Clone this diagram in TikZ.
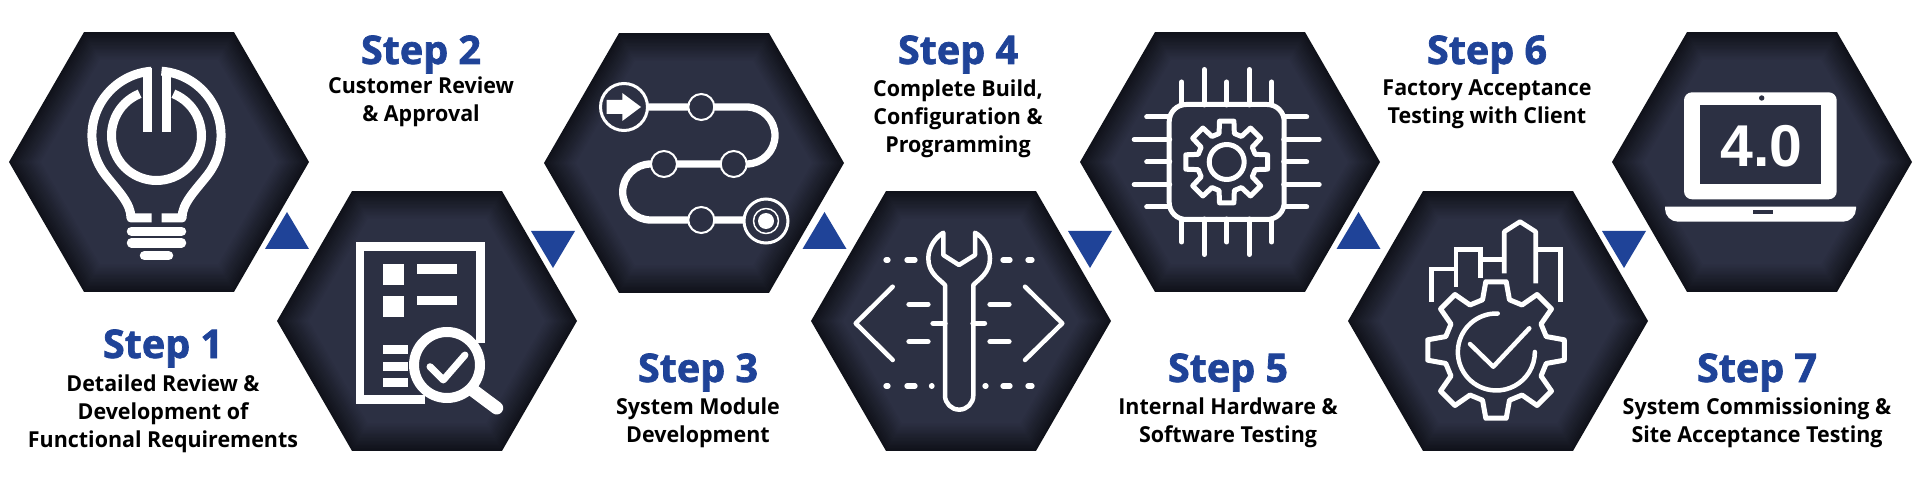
\documentclass[tikz,border=0pt]{standalone}
\usepackage{fontspec}
\setmainfont{Open Sans}
\newfontfamily\headfont[BoldFeatures={FakeBold=1.8}]{Open Sans}
\newfontfamily\descfont[BoldFeatures={FakeStretch=0.975}]{Open Sans}
\newfontfamily\screenfont{Liberation Sans}
\definecolor{hexmid}{HTML}{2C3043}
\definecolor{hexedge}{HTML}{10121A}
\definecolor{stepblue}{HTML}{1F4398}
\tikzset{
  x=1pt,y=1pt,
  stephead/.style={anchor=base,inner sep=0pt,text=stepblue,font=\headfont\bfseries\fontsize{39.5}{39.5}\selectfont},
  stepdesc/.style={anchor=base,inner sep=0pt,align=center,font=\descfont\bfseries\fontsize{22}{28}\selectfont},
  tri/.style={fill=stepblue},
  icon/.style={draw=white,line width=#1,line join=round},
  icon/.default=5pt,
  iconfill/.style={fill=white},
  darkdisc/.style={fill=hexmid,draw=white},
  iconcap/.style={icon=#1,line cap=round},
  iconcap/.default=5pt,
}
%% hexagon with a dark rim, #1 is the name of its centre
\newcommand{\hexcell}[3]{%
  \coordinate (#1) at (#2,#3);
  \foreach \p in {0,5,...,100}{
    \pgfmathsetmacro{\r}{150-0.32*\p}
    \fill[hexmid!\p!hexedge,shift={(#1)}] (0:\r) -- (60:\r) -- (120:\r) -- (180:\r) -- (240:\r) -- (300:\r) -- cycle;
  }
}
%% gear with 8 teeth
\newcommand{\gearpath}[4]{%
  \draw[icon] (-#4:#2) \foreach \a in {0,45,...,315}{
    -- ({\a-#4}:#2) -- ({\a-#3}:#1) -- ({\a+#3}:#1) -- ({\a+#4}:#2)
  } -- cycle;
}
\begin{document}
\begin{tikzpicture}
  \path[use as bounding box,fill=white] (0,0) rectangle (1920,480);
  %% hexagons
  \hexcell{H1}{159}{318}
  \hexcell{H2}{427}{159}
  \hexcell{H3}{694}{317}
  \hexcell{H4}{961}{159}
  \hexcell{H5}{1230}{318}
  \hexcell{H6}{1498}{159}
  \hexcell{H7}{1762}{318}
  %% triangles
  \foreach \x in {287,824.5,1358.5}
    \fill[tri] (\x,268) -- (\x-22,231) -- (\x+22,231) -- cycle;
  \foreach \x in {553,1090,1624}
    \fill[tri] (\x,212) -- (\x-22,249) -- (\x+22,249) -- cycle;
  %% labels
  \node[stephead] (S1) at (163,122) {Step 1};
  \node[stepdesc] (D1) at (163,33) {Detailed Review \&\\Development of\\Functional Requirements};
  \node[stephead] (S2) at (421,416) {Step 2};
  \node[stepdesc] (D2) at (421,358) {Customer Review\\\& Approval};
  \node[stephead] (S3) at (698,98) {Step 3};
  \node[stepdesc] (D3) at (698,38) {System Module\\Development};
  \node[stephead] (S4) at (958,416) {Step 4};
  \node[stepdesc] (D4) at (958,327) {Complete Build,\\Configuration \&\\Programming};
  \node[stephead] (S5) at (1228,98) {Step 5};
  \node[stepdesc] (D5) at (1228,38) {Internal Hardware \&\\Software Testing};
  \node[stephead] (S6) at (1487,416) {Step 6};
  \node[stepdesc] (D6) at (1487,356) {Factory Acceptance\\Testing with Client};
  \node[stephead] (S7) at (1757,98) {Step 7};
  \node[stepdesc] (D7) at (1757,38) {System Commissioning \&\\Site Acceptance Testing};
  %% bulb
  \begin{scope}[shift={(H1)},shift={(-2.5,26.5)}]
    \foreach \s in {-1,1}{
      \begin{scope}[xscale=\s]
        \draw[icon=9pt] (-5,64.3) arc[start angle=94.4,end angle=218,radius=64.5]
          .. controls (-38,-56) and (-25.5,-68) .. (-25.5,-82.5) -- (-5,-82.5);
        \draw[icon=9pt] (-9.5,3.5) -- (-9.5,67);
      \end{scope}
    }
    \draw[icon=9pt] (112:45) arc[start angle=112,end angle=428,radius=45];
    \draw[iconcap=9.5pt] (-25,-95.8) -- (25,-95.8);
    \draw[iconcap=9.5pt] (-25,-107.3) -- (25,-107.3);
    \draw[iconcap=9.5pt] (-12,-120.2) -- (12,-120.2);
  \end{scope}
  %% checklist
  \begin{scope}[shift={(H2)}]
    \draw[icon=8.7pt,line join=miter] (-2,-78.7) -- (-67,-78.7) -- (-67,74.3) -- (53.6,74.3) -- (53.6,-22);
    \fill[iconfill] (-43.7,56.7) rectangle (-23,36);
    \fill[iconfill] (-43.7,24.7) rectangle (-23,4);
    \fill[iconfill] (-10,56.7) rectangle (29.7,47.3);
    \fill[iconfill] (-10,24.7) rectangle (29.7,15.7);
    \fill[iconfill] (-43.7,-24.3) rectangle (-19,-33.3);
    \fill[iconfill] (-43.7,-40.7) rectangle (-19,-49.7);
    \fill[iconfill] (-43.7,-57.3) rectangle (-19,-66.3);
    \draw[iconcap=13pt] (43.3,-67.3) -- (69.7,-87);
    \draw[darkdisc,line width=10pt] (20,-44) circle (33);
    \draw[iconcap=7pt] (3,-45.7) -- (16.3,-59) -- (38,-34);
  \end{scope}
  %% route
  \begin{scope}[shift={(H3)}]
    \draw[icon=7.3pt] (-70,56) -- (52.5,56) arc[start angle=90,end angle=-90,radius=28.5]
      -- (-43.3,-1) arc[start angle=90,end angle=270,radius=28] -- (72,-57);
    \draw[darkdisc,line width=3pt] (-70,56) circle (23.5);
    \fill[iconfill] (-87.3,63) -- (-71.7,63) -- (-71.7,70) -- (-53,56) -- (-71.7,42) -- (-71.7,49) -- (-87.3,49) -- cycle;
    \foreach \x/\y in {7.3/56,-30/-1,39.7/-1,7.3/-57}
      \draw[darkdisc,line width=2pt] (\x,\y) circle (13);
    \draw[darkdisc,line width=3pt] (72,-58) circle (22);
    \draw[icon=1.5pt] (72,-58) circle (12.5);
    \fill[iconfill] (72,-58) circle (8);
  \end{scope}
  %% wrench
  \begin{scope}[shift={(H4)}]
    \draw[iconcap=4.5pt] (-68.3,34.3) -- (-105.3,-2.3) -- (-68.3,-39);
    \draw[iconcap=4.5pt] (64,34.3) -- (101.3,-2.3) -- (64,-39);
    \foreach \a/\b in {-75/-73,-54/-46,42/49,67/71}
      \draw[iconcap=5.3pt] (\a,61) -- (\b,61);
    \foreach \a/\b in {-75/-73,-54/-46,-29.5/-29,24/25,42/49,67/71}
      \draw[iconcap=5.3pt] (\a,-65) -- (\b,-65);
    \foreach \a/\b in {-52/-33,29/48}{
      \draw[iconcap=5.3pt] (\a,16.7) -- (\b,16.7);
      \draw[iconcap=5.3pt] (\a,-20.7) -- (\b,-20.7);
    }
    \draw[iconcap=5.3pt] (-28,-2.3) -- (-16,-2.3);
    \draw[iconcap=5.3pt] (12,-2.3) -- (23.5,-2.3);
    \draw[icon=4.5pt] (-16,36) -- (-16,-74.5) arc[start angle=180,end angle=360,radius=14.15]
      -- (12.3,36) .. controls (18,42) and (29,48) .. (29,62.7)
      .. controls (29,74) and (22,84) .. (14,88.3) -- (14,66) -- (-2,56) -- (-17.7,66) -- (-17.7,88.3)
      .. controls (-25,84) and (-32.7,74) .. (-32.7,62.7) .. controls (-32.7,48) and (-21.7,42) .. cycle;
  \end{scope}
  %% chip
  \begin{scope}[shift={(H5)},shift={(-3.3,0)}]
    \foreach \p/\l in {-45/80,-22.5/92.5,0/80,22.5/92.5,45/80}{
      \draw[iconcap] (\p,57) -- (\p,\l);
      \draw[iconcap] (\p,-57) -- (\p,-\l);
      \draw[iconcap] (57,\p) -- (\l,\p);
      \draw[iconcap] (-57,\p) -- (-\l,\p);
    }
    \draw[icon,rounded corners=17pt] (-57.5,-57.5) rectangle (57.5,57.5);
    \gearpath{41.5}{29.5}{10}{15}
    \draw[icon] (0,0) circle (17.5);
  \end{scope}
  %% gear and skyline
  \begin{scope}[shift={(H6)}]
    \draw[icon=4.7pt,line join=miter] (-66.3,19.3) -- (-66.3,52) -- (-42,52) -- (-42,34.3);
    \draw[icon=4.7pt,line join=miter] (-42,52) -- (-42,71.7) -- (-17.3,71.7) -- (-17.3,42.7);
    \draw[icon=4.7pt] (-17.3,61.7) -- (6.3,61.7);
    \draw[icon=4.7pt] (6.3,47.7) -- (6.3,89.3) -- (22,99.3) -- (37.7,89.3) -- (37.7,37.7);
    \draw[icon=4.7pt,line join=miter] (37.7,71.7) -- (62.7,71.7) -- (62.7,19.3);
    \begin{scope}[shift={(-2,-29)}]
      \gearpath{69}{52}{8.5}{15}
    \end{scope}
    \draw[iconcap=4.5pt] (-0.3,7.5) arc[start angle=88,end angle=360,radius=38.5];
    \draw[iconcap=4.5pt] (-28,-23) -- (-4.7,-45.7) -- (31.3,-7.3);
  \end{scope}
  %% laptop
  \begin{scope}[shift={(H7)}]
    \fill[iconfill,rounded corners=8pt] (-78,-37.3) rectangle (74.7,69.7);
    \fill[hexmid] (-62,-22.3) rectangle (59.3,57.3);
    \fill[hexmid] (-0.3,64) circle (2.7);
    \fill[iconfill] (-97,-44.7) -- (94,-44.7) -- (94,-46.7) arc[start angle=0,end angle=-90,radius=13] -- (-84,-59.7) arc[start angle=270,end angle=180,radius=13] -- cycle;
    \fill[hexmid] (-8.7,-48.3) rectangle (10.7,-52);
    \node[text=white,font=\screenfont\bfseries\fontsize{59}{59}\selectfont,inner sep=0pt] (V) at (-0.3,16) {4.0};
  \end{scope}
\end{tikzpicture}
\end{document}
